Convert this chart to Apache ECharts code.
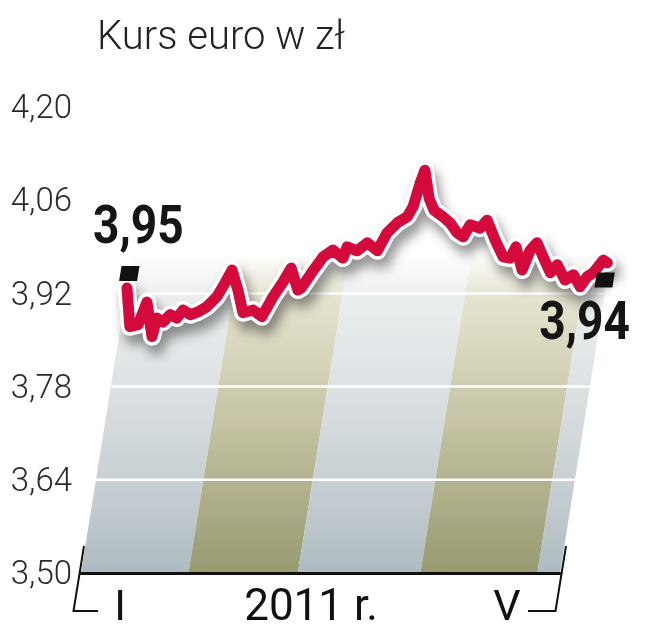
<!DOCTYPE html>
<html><head><meta charset="utf-8">
<script src="https://cdn.jsdelivr.net/npm/echarts/dist/echarts.min.js"></script>
<style>html,body{margin:0;padding:0;background:#fff}#c{width:654px;height:640px}</style>
</head><body><div id="c"></div>
<script>
// ---- data ----
const titleText = 'Kurs euro w zł';
const yTicks = [3.50, 3.64, 3.78, 3.92, 4.06, 4.20];
const gridValues = [3.64, 3.78, 3.92];
const xLabels = ['I', '2011 r.', 'V'];
const bandEdges = [0, 28.5, 57.5, 90, 121, 127];   // month band edges (days from 1 Jan)
const days = [0.1, 2.5, 4.6, 6.0, 8.8, 9.3, 11.1, 12.7, 14.6, 15.9, 18.0, 19.9, 22.1, 24.3, 25.9, 27.2,
  29.6, 31.9, 34.5, 37.1, 39.2, 41.2, 42.8, 45.5, 46.3, 48.5, 50.8, 53.1, 56.1, 56.7, 59.5, 61.9,
  64.9, 66.7, 69.0, 71.4, 72.5, 73.4, 74.1, 76.4, 78.2, 80.9, 83.0, 85.3, 87.1, 88.4, 91.2, 92.7,
  95.7, 98.5, 100.4, 101.5, 104.1, 105.4, 106.9, 109.1, 111.7, 113.2, 115.9, 117.9, 120.2, 121.6,
  123.1, 125.2, 126.4];
const rates = [3.928, 3.870, 3.873, 3.907, 3.855, 3.883, 3.877, 3.888, 3.883, 3.895, 3.888, 3.892, 3.900, 3.915, 3.936, 3.955,
  3.925, 3.891, 3.895, 3.885, 3.915, 3.937, 3.958, 3.925, 3.928, 3.952, 3.975, 3.985, 3.973, 3.990, 3.984, 3.996,
  3.984, 4.011, 4.026, 4.035, 4.050, 4.086, 4.105, 4.063, 4.045, 4.035, 4.026, 4.011, 4.005, 4.023, 4.018, 4.030,
  4.000, 3.975, 3.973, 3.990, 3.955, 3.985, 3.996, 3.975, 3.951, 3.963, 3.940, 3.948, 3.930, 3.945,
  3.951, 3.970, 3.966];
const startValue = 3.95, endValue = 3.94;
const startLabel = '3,95', endLabel = '3,94';

// ---- style ----
const K = 0.16;           // skew of the plot (px right per px up)
const BAND_TOP = 3.98;
const greyStops = ['#ffffff', '#eceff0', '#dce1e3', '#c8d0d4', '#aebbc1'];
const oliveStops = ['#ffffff', '#e6e4d0', '#cfcdb0', '#b4b38f', '#989a70'];
const stopPos = [0, 0.13, 0.42, 0.71, 1];
function grad(cols){ return new echarts.graphic.LinearGradient(0,0,0,1, cols.map((c,i)=>({offset:stopPos[i], color:c}))); }

const chart = echarts.init(document.getElementById('c'));
function skew(api, p){ const base = api.coord([0, yTicks[0]])[1]; return [p[0] + (base - p[1]) * K, p[1]]; }

const bandData = bandEdges.slice(0, -1).map((e, i) => [e, bandEdges[i+1], i % 2]);
const bigFont = {fontSize: 53, fontWeight: 'bold', fontFamily: 'Roboto', fill: '#151515', align: 'center', verticalAlign: 'middle'};

function marker(c){
  const w = 9, h = 7.5, s = 1.2;
  return {type: 'polygon', shape: {points: [[c[0]-w+s, c[1]-h], [c[0]+w+s, c[1]-h], [c[0]+w-s, c[1]+h], [c[0]-w-s, c[1]+h]]}, style: {fill: '#111'}};
}

const option = {
  animation: false,
  grid: {left: 81, right: 94, top: 107, bottom: 67},
  xAxis: {type: 'value', min: 0, max: 127, z: 10,
    axisLine: {show: true, lineStyle: {color: '#111', width: 3}},
    axisTick: {show: false}, axisLabel: {show: false}, splitLine: {show: false}},
  yAxis: {type: 'value', min: yTicks[0], max: yTicks[yTicks.length-1], interval: 0.14,
    axisLine: {show: false}, axisTick: {show: false}, splitLine: {show: false},
    axisLabel: {margin: 9, formatter: v => '{a|' + v.toFixed(2).replace('.', ',') + '}',
      rich: {a: {fontSize: 33, fontFamily: 'Roboto', fontWeight: 300, color: '#2a2a2a', padding: [6, 0, 0, 0]}}}},
  graphic: [
    {type: 'text', left: 97, top: 19, style: {text: titleText, fontSize: 40, fontFamily: 'Roboto', fontWeight: 300, fill: '#222'}},
    {type: 'text', x: 120, y: 609, style: {text: xLabels[0], fontSize: 43, fontFamily: 'Roboto', fill: '#111', align: 'center', verticalAlign: 'middle'}},
    {type: 'text', x: 311, y: 609, style: {text: xLabels[1], fontSize: 44, fontFamily: 'Roboto', fill: '#111', align: 'center', verticalAlign: 'middle'}},
    {type: 'text', x: 507, y: 609, style: {text: xLabels[2], fontSize: 43, fontFamily: 'Roboto', fill: '#111', align: 'center', verticalAlign: 'middle'}},
    {type: 'polyline', shape: {points: [[84, 546], [73.5, 611], [98, 611]]}, style: {stroke: '#111', lineWidth: 2, fill: null}},
    {type: 'polyline', shape: {points: [[566, 546], [555.5, 611], [528, 611]]}, style: {stroke: '#111', lineWidth: 2, fill: null}}
  ],
  series: [
    {type: 'custom', z: 1, data: bandData, renderItem: (params, api) => {
      const a = api.value(0), b = api.value(1), kind = api.value(2);
      const pts = [[a, yTicks[0]], [b, yTicks[0]], [b, BAND_TOP], [a, BAND_TOP]].map(p => skew(api, api.coord(p)));
      return {type: 'polygon', shape: {points: pts}, style: {fill: grad(kind ? oliveStops : greyStops)}};
    }},
    {type: 'custom', z: 2, data: gridValues.map(v => [v]), renderItem: (params, api) => {
      const v = api.value(0);
      const p1 = skew(api, api.coord([0, v])), p2 = skew(api, api.coord([127, v]));
      return {type: 'line', shape: {x1: p1[0], y1: p1[1], x2: p2[0], y2: p2[1]}, style: {stroke: '#fff', lineWidth: 2.5}};
    }},
    {type: 'custom', z: 3, data: [[0]], renderItem: (params, api) => {
      const pts = days.map((d, i) => skew(api, api.coord([d, rates[i]])));
      const s = skew(api, api.coord([days[0], startValue]));
      const e = skew(api, api.coord([days[days.length-1], endValue]));
      return {type: 'group', children: [
        {type: 'polyline', shape: {points: pts}, style: {stroke: '#fff', lineWidth: 18, fill: null, lineJoin: 'round', lineCap: 'round',
          shadowColor: 'rgba(0,0,0,0.42)', shadowBlur: 12, shadowOffsetX: 4, shadowOffsetY: 9}},
        {type: 'polyline', shape: {points: pts}, style: {stroke: '#d40a3c', lineWidth: 11, fill: null, lineJoin: 'round', lineCap: 'round'}},
        marker(s), marker(e),
        {type: 'text', x: s[0] + 9, y: s[1] - 44, scaleX: 0.87, style: Object.assign({text: startLabel}, bigFont)},
        {type: 'text', x: e[0] - 20, y: e[1] + 46, scaleX: 0.87, style: Object.assign({text: endLabel}, bigFont)}
      ]};
    }}
  ]
};
chart.setOption(option);
</script></body></html>
